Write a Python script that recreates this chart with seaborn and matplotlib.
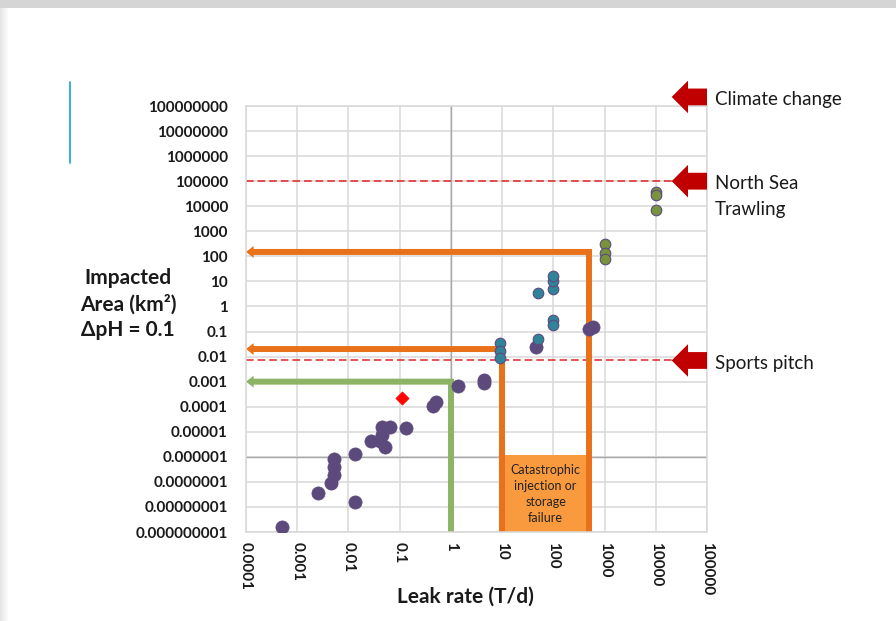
import matplotlib
matplotlib.use("Agg")
import matplotlib.pyplot as plt
import matplotlib.patches as mpatches
import matplotlib.transforms as mtransforms
from matplotlib.ticker import FixedLocator, NullLocator
import pandas as pd
import seaborn as sns

# Leak rate (T/d) vs impacted area (km2) at delta pH = 0.1, by group
purple_rate = [0.00051, 0.0025, 0.0134, 0.0046, 0.0052, 0.0052, 0.0052, 0.0135,
               0.0275, 0.052, 0.042, 0.045, 0.045, 0.065, 0.133, 0.45, 0.51,
               1.35, 4.5, 4.5, 45, 490, 600]
purple_area = [1.6e-9, 3.7e-8, 1.6e-8, 9.3e-8, 1.9e-7, 4.1e-7, 8.1e-7, 1.3e-6,
               4.4e-6, 2.5e-6, 4.1e-6, 7.6e-6, 1.6e-5, 1.55e-5, 1.4e-5, 1.1e-4, 1.6e-4,
               6.9e-4, 1.2e-3, 8.9e-4, 0.025, 0.13, 0.15]

teal_rate = [9.3, 9.3, 9.3, 50, 50, 100, 100, 100, 100, 100]
teal_area = [0.035, 0.016, 0.009, 0.051, 3.3, 0.28, 0.19, 4.8, 10, 16]

green_rate = [1000, 1000, 1000, 10000, 10000, 10000]
green_area = [300, 132, 76, 37000, 27500, 7100]

diamond_rate = [0.11]
diamond_area = [2.2e-4]

# Reference areas (km2)
climate_change_area = 2.3e8
north_sea_area = 1e5
sports_pitch_area = 0.007

# Leak scenarios traced back to the area axis
scenario_rate = [500, 10, 1]
scenario_area = [150, 0.02, 0.001]
scenario_color = ["#E8711A", "#E8711A", "#8DB364"]

# Catastrophic failure band
band_rate = [10, 500]
band_area_top = 1.15e-6

x_tick_values = [1e-4, 1e-3, 1e-2, 1e-1, 1, 10, 100, 1000, 10000, 100000]
x_tick_labels = ["0.0001", "0.001", "0.01", "0.1", "1", "10", "100", "1000",
                 "10000", "100000"]
y_tick_values = [1e-9, 1e-8, 1e-7, 1e-6, 1e-5, 1e-4, 1e-3, 1e-2, 1e-1, 1, 10,
                 100, 1000, 1e4, 1e5, 1e6, 1e7, 1e8]
y_tick_labels = ["0.000000001", "0.00000001", "0.0000001", "0.000001", "0.00001",
                 "0.0001", "0.001", "0.01", "0.1", "1", "10", "100", "1000",
                 "10000", "100000", "1000000", "10000000", "100000000"]

sns.set_theme(style="white")
plt.rcParams["font.family"] = ["Lato", "DejaVu Sans"]

W, H = 896, 621
fig = plt.figure(figsize=(W / 100, H / 100), dpi=100)
fig.patch.set_facecolor("white")

# slide frame: grey strip on top, soft shade on the left, blue accent bar
fig.patches.append(mpatches.Rectangle((0, 1 - 8 / H), 1, 8 / H, transform=fig.transFigure,
                                      facecolor="#D5D5D5", edgecolor="none", zorder=0))
for i, c in enumerate(["#E6E6E6", "#EDEDED", "#F3F3F3", "#F8F8F8"]):
    fig.patches.append(mpatches.Rectangle((i * 2 / W, 0), 2 / W, 1 - 8 / H,
                                          transform=fig.transFigure, facecolor=c,
                                          edgecolor="none", zorder=0))
fig.add_artist(plt.Line2D([70 / W, 70 / W], [1 - 82 / H, 1 - 163 / H],
                          transform=fig.transFigure, color="#2AA6E0", lw=1.3))

ax = fig.add_axes([246 / W, 1 - 532 / H, 461 / W, 426 / H])
ax.set_xscale("log")
ax.set_yscale("log")
ax.set_xlim(1e-4, 1e5)
ax.set_ylim(1e-9, 1e8)

grid_c = "#D9D9D9"
ax.set_axisbelow(True)
ax.xaxis.set_major_locator(FixedLocator(x_tick_values))
ax.yaxis.set_major_locator(FixedLocator(y_tick_values))
ax.xaxis.set_minor_locator(NullLocator())
ax.yaxis.set_minor_locator(NullLocator())
ax.grid(True, which="major", color=grid_c, lw=1.1)
for s in ax.spines.values():
    s.set_color(grid_c)
    s.set_linewidth(1.1)
ax.axvline(1, color="#A8A8A8", lw=1.0, zorder=0.6)
ax.axhline(1e-6, color="#A8A8A8", lw=1.0, zorder=0.6)

# catastrophic failure band
ax.add_patch(mpatches.Rectangle((band_rate[0], 1e-9), band_rate[1] - band_rate[0],
                                band_area_top - 1e-9, facecolor="#FA9A3E",
                                edgecolor="none", zorder=1.5))
ax.text((band_rate[0] * band_rate[1]) ** 0.5, 10 ** -7.48,
        "Catastrophic\ninjection or\nstorage\nfailure", ha="center", va="center",
        fontsize=9, linespacing=1.4, color="#222222", zorder=1.6)

# reference dashed lines
for area in [north_sea_area, sports_pitch_area]:
    ax.plot([1e-4, 10 ** 4.31], [area, area], color="#E02424", lw=1.1,
            linestyle=(0, (5, 2.6)), zorder=1.8, clip_on=False)

# scenario elbows: up from the leak rate, then back to the area axis
for rate, area, col in zip(scenario_rate, scenario_area, scenario_color):
    ax.plot([rate, rate], [1e-9, area], color=col, lw=4.3,
            solid_capstyle="projecting", zorder=2)
    ax.annotate("", xy=(1e-4, area), xytext=(rate * 1.12, area),
                arrowprops=dict(arrowstyle="simple,head_length=0.55,head_width=0.85,tail_width=0.43",
                                lw=0, color=col, mutation_scale=10,
                                shrinkA=0, shrinkB=0),
                zorder=2)

purple = pd.DataFrame({"rate": purple_rate, "area": purple_area})
teal = pd.DataFrame({"rate": teal_rate, "area": teal_area})
green = pd.DataFrame({"rate": green_rate, "area": green_area})
diamond = pd.DataFrame({"rate": diamond_rate, "area": diamond_area})

sns.scatterplot(data=purple, x="rate", y="area", ax=ax, s=90, color="#5C4A7D",
                edgecolor="#5C4A7D", linewidth=0.5, zorder=3)
sns.scatterplot(data=teal, x="rate", y="area", ax=ax, s=58, color="#2F8499",
                edgecolor="#5C4A7D", linewidth=0.8, zorder=3.2)
sns.scatterplot(data=green, x="rate", y="area", ax=ax, s=58, color="#77933C",
                edgecolor="#5C4A7D", linewidth=0.8, zorder=3.3)
sns.scatterplot(data=diamond, x="rate", y="area", ax=ax, s=45, marker="D",
                color="#FF0000", edgecolor="#FF0000", linewidth=0.5, zorder=3.4)

ax.set_xticks(x_tick_values)
ax.set_xticklabels(x_tick_labels, rotation=-90, fontsize=11, fontweight="bold",
                   color="#1A1A1A")
ax.set_yticks(y_tick_values)
ax.set_yticklabels(y_tick_labels, fontsize=11, fontweight="bold", color="#1A1A1A")
ax.tick_params(axis="x", length=0, pad=7)
ax.tick_params(axis="y", length=0, pad=13)
for lab in ax.get_xticklabels():
    lab.set_va("top")
    lab.set_ha("center")

ax.set_xlabel("Leak rate (T/d)", fontsize=15, fontweight="bold", color="#1A1A1A")
ax.xaxis.set_label_coords(0.477, -0.152)
ax.xaxis.label.set_va("center")
ax.set_ylabel("Impacted\nArea (km²)\nΔpH = 0.1", fontsize=15, fontweight="bold",
              rotation=0, linespacing=1.35, color="#1A1A1A")
ax.yaxis.set_label_coords(-0.256, 0.535)
ax.yaxis.label.set_va("center")
ax.yaxis.label.set_ha("center")
ax.yaxis.label.set_multialignment("center")

# block arrows and labels for the reference areas
fig.canvas.draw()
ident = mtransforms.IdentityTransform()
x_tip, x_neck, x_end = [ax.transAxes.transform((f, 0))[0] for f in (0.9234, 0.9588, 1.0)]
head_h, body_h = 16.3, 8.4
for area in [climate_change_area, north_sea_area, sports_pitch_area]:
    yd = ax.transData.transform((1, area))[1]
    verts = [(x_tip, yd), (x_neck, yd + head_h), (x_neck, yd + body_h),
             (x_end, yd + body_h), (x_end, yd - body_h), (x_neck, yd - body_h),
             (x_neck, yd - head_h)]
    fig.patches.append(mpatches.Polygon(verts, closed=True, transform=ident,
                                        facecolor="#C00000", edgecolor="none",
                                        zorder=5))

label_tr = mtransforms.offset_copy(
    mtransforms.blended_transform_factory(ax.transAxes, ax.transData),
    fig=fig, x=0, y=-2, units="points")
label_kw = dict(transform=label_tr, ha="left", va="center", fontsize=13.5,
                color="#1A1A1A", clip_on=False)
ax.text(1.0174, climate_change_area, "Climate change", **label_kw)
ax.text(1.0174, north_sea_area, "North Sea", **label_kw)
ax.text(1.0174, north_sea_area / 10, "Trawling", **label_kw)
ax.text(1.0174, sports_pitch_area, "Sports pitch", **label_kw)

fig.savefig("out.png", dpi=100)
